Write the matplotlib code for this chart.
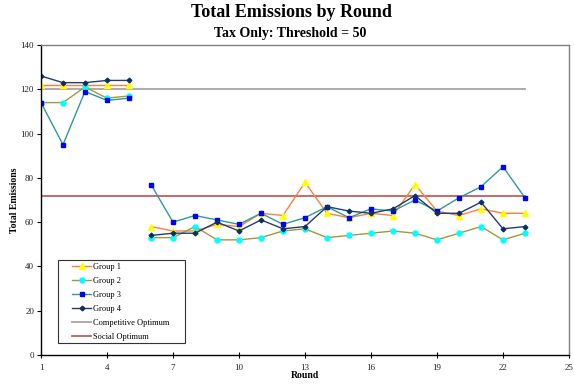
import numpy as np
import matplotlib
matplotlib.use("Agg")
import matplotlib.pyplot as plt
from matplotlib.lines import Line2D
from matplotlib.patches import Rectangle

plt.rcParams['font.family'] = ['Liberation Serif', 'DejaVu Serif']

rounds = list(range(1, 24))
session_break = 5  # rounds 1-5 and 6-23 are plotted as separate segments

group1 = [122, 122, 122, 122, 122,
          58, 56, 56, 59, 58, 64, 63, 78, 64, 62, 64, 63, 77, 65, 63, 66, 64, 64]
group2 = [114, 114, 121, 116, 117,
          53, 53, 58, 52, 52, 53, 56, 57, 53, 54, 55, 56, 55, 52, 55, 58, 52, 55]
group3 = [114, 95, 119, 115, 116,
          77, 60, 63, 61, 59, 64, 59, 62, 67, 62, 66, 65, 70, 65, 71, 76, 85, 71]
group4 = [126, 123, 123, 124, 124,
          54, 55, 55, 60, 56, 61, 57, 58, 67, 65, 64, 66, 72, 64, 64, 69, 57, 58]

competitive_optimum = 120
social_optimum = 72

series = [
    ("Group 1", group1, dict(color="#FF7F3F", marker="^", mfc="#FFFF00", mec="#FFFF00", ms=4.2)),
    ("Group 2", group2, dict(color="#9C9C3C", marker="o", mfc="#00FFFF", mec="#00FFFF", ms=3.6)),
    ("Group 3", group3, dict(color="#2E9A9A", marker="s", mfc="#0000FF", mec="#0000FF", ms=3.5)),
    ("Group 4", group4, dict(color="#1F3F6F", marker="D", mfc="#0F2F5F", mec="#0F2F5F", ms=2.4)),
]

fig = plt.figure(figsize=(5.74, 3.87), dpi=100)
ax = fig.add_axes([0.0714, 0.0827, 0.9199, 0.801])

ax.plot([rounds[0], rounds[-1]], [competitive_optimum] * 2, color="#A6A6A6", lw=1.3, zorder=1)
ax.plot([rounds[0], rounds[-1]], [social_optimum] * 2, color="#C0605A", lw=1.3, zorder=1)

handles = []
for name, vals, style in series:
    for sl in (slice(0, session_break), slice(session_break, None)):
        ax.plot(rounds[sl], vals[sl], lw=1.0, zorder=2, **style)
    handles.append(Line2D([], [], lw=1.0, label=name, **style))
handles.append(Line2D([], [], color="#A6A6A6", lw=1.3, label="Competitive Optimum"))
handles.append(Line2D([], [], color="#C0605A", lw=1.3, label="Social Optimum"))

ax.set_xlim(1, 25)
ax.set_ylim(0, 140)
ax.set_xticks(range(1, 26, 3))
ax.set_yticks(range(0, 141, 20))
ax.tick_params(axis="y", direction="out", length=3, width=0.8, labelsize=6.5, pad=2, colors="black")
ax.tick_params(axis="x", direction="inout", length=5, width=0.8, labelsize=6.5, pad=4, colors="black")
for lab in ax.get_xticklabels() + ax.get_yticklabels():
    lab.set_color("#222222")

for side in ("left", "bottom"):
    ax.spines[side].set_color("black")
    ax.spines[side].set_linewidth(1.0)
for side in ("top", "right"):
    ax.spines[side].set_color("#808080")
    ax.spines[side].set_linewidth(1.0)

ax.set_xlabel("Round", fontsize=7, fontweight="bold", labelpad=-1)
ax.set_ylabel("Total Emissions", fontsize=7, fontweight="bold", labelpad=1)

fig.text(0.507, 0.967, "Total Emissions by Round", ha="center", va="center",
         fontsize=13, fontweight="bold")
fig.text(0.505, 0.914, "Tax Only: Threshold = 50", ha="center", va="center",
         fontsize=10, fontweight="bold")

# legend box drawn separately so the horizontal padding can be wider than the vertical
ax.add_patch(Rectangle((0.0322, 0.0387), 0.2405, 0.2677, transform=ax.transAxes,
                       facecolor="white", edgecolor="#333333", lw=0.8, zorder=4))
leg = ax.legend(handles=handles, loc="upper left", bbox_to_anchor=(0.0590, 0.2965),
                fontsize=6, frameon=False, handlelength=2.3, handletextpad=0.15,
                labelspacing=0.72, borderpad=0, borderaxespad=0)
leg.set_zorder(5)

fig.savefig("out.png", dpi=100)
